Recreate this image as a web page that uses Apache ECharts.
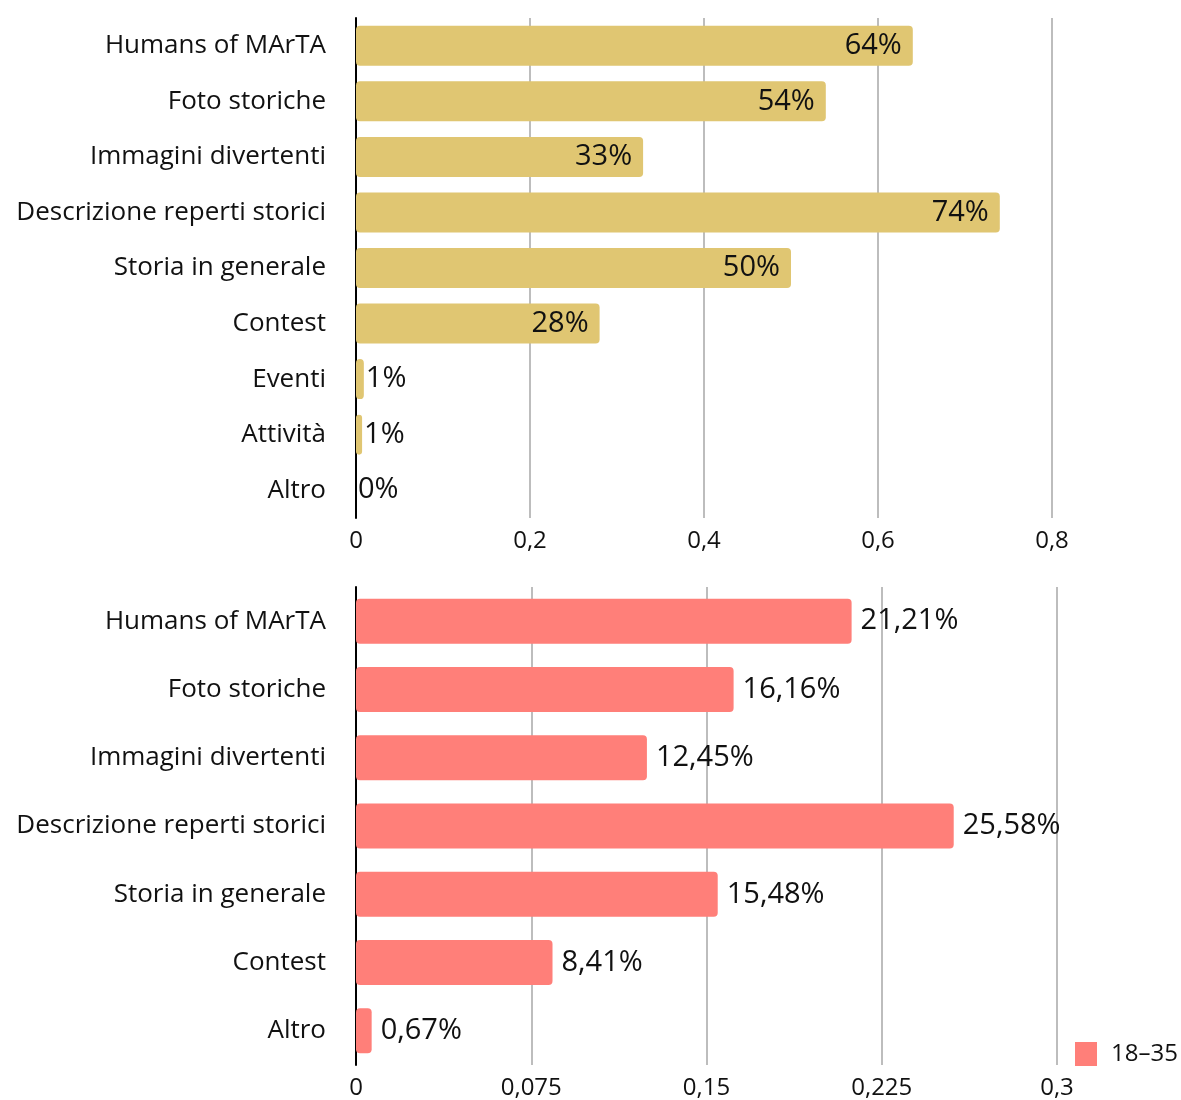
<!DOCTYPE html>
<html>
<head>
<meta charset="utf-8">
<script src="https://cdn.jsdelivr.net/npm/echarts@6/dist/echarts.min.js"></script>
<style>
  html, body { margin: 0; padding: 0; background: #fff; }
  #chart { width: 1181px; height: 1100px; }
</style>
</head>
<body>
<div id="chart"></div>
<script>
// Contenuti preferiti: totale (pannello superiore) e fascia 18–35 (pannello inferiore)
const topCategories = ['Humans of MArTA', 'Foto storiche', 'Immagini divertenti', 'Descrizione reperti storici',
  'Storia in generale', 'Contest', 'Eventi', 'Attività', 'Altro'];
const topValues = [0.64, 0.54, 0.33, 0.74, 0.50, 0.28, 0.009, 0.007, 0];
const topTicks = [0, 0.2, 0.4, 0.6, 0.8];

const bottomCategories = ['Humans of MArTA', 'Foto storiche', 'Immagini divertenti', 'Descrizione reperti storici',
  'Storia in generale', 'Contest', 'Altro'];
const bottomValues = [0.2121, 0.1616, 0.1245, 0.2558, 0.1548, 0.0841, 0.0067];
const bottomTicks = [0, 0.075, 0.15, 0.225, 0.3];
const bottomSeriesName = '18–35';

const FONT = '"Open Sans"';
const GOLD = '#E0C672';
const SALMON = '#FF7F79';
const comma = v => String(v).replace('.', ',');

const chart = echarts.init(document.getElementById('chart'), null, { renderer: 'canvas' });

function xAxisFor(gridIndex, ticks) {
  return {
    type: 'value', gridIndex,
    min: ticks[0], max: ticks[ticks.length - 1],
    interval: ticks[1] - ticks[0],
    axisLine: { show: false }, axisTick: { show: false },
    axisLabel: { fontFamily: FONT, fontSize: 24, color: '#111', margin: 11,
      formatter: v => comma(+v.toFixed(3)) },
    splitLine: { show: true, lineStyle: { color: '#bdbdbd', width: 2 } }
  };
}
function yAxisFor(gridIndex, cats) {
  return {
    type: 'category', gridIndex, data: cats, inverse: true,
    axisLine: { show: true, lineStyle: { color: '#000', width: 2 } },
    axisTick: { show: false },
    axisLabel: { fontFamily: FONT, fontSize: 26, color: '#111', margin: 30 }
  };
}

chart.setOption({
  animation: false,
  backgroundColor: '#fff',
  grid: [
    { left: 356, right: 129, top: 18, height: 500 },
    { left: 356, right: 124, top: 587, height: 478 }
  ],
  xAxis: [xAxisFor(0, topTicks), xAxisFor(1, bottomTicks)],
  yAxis: [yAxisFor(0, topCategories), yAxisFor(1, bottomCategories)],
  legend: {
    data: [bottomSeriesName], left: 1075, top: 1042, padding: 0,
    itemWidth: 22, itemHeight: 24, itemGap: 10,
    icon: 'rect',
    textStyle: { fontFamily: FONT, fontSize: 24, color: '#111', padding: [0, 0, 0, 9] }
  },
  series: [
    {
      name: 'Totale', type: 'bar', xAxisIndex: 0, yAxisIndex: 0,
      barWidth: 40,
      itemStyle: { color: GOLD, borderRadius: 4 },
      data: topValues.map(v => ({
        value: v,
        label: { position: v < 0.05 ? 'right' : 'insideRight', distance: v < 0.05 ? 2 : 11 }
      })),
      label: {
        show: true, fontFamily: FONT, fontSize: 29, color: '#111',
        formatter: p => Math.round(p.value * 100) + '%'
      }
    },
    {
      name: bottomSeriesName, type: 'bar', xAxisIndex: 1, yAxisIndex: 1,
      barWidth: 45,
      itemStyle: { color: SALMON, borderRadius: 4 },
      data: bottomValues,
      label: {
        show: true, position: 'right', distance: 9,
        fontFamily: FONT, fontSize: 29, color: '#111',
        formatter: p => comma((p.value * 100).toFixed(2)) + '%'
      }
    }
  ]
});
</script>
</body>
</html>
